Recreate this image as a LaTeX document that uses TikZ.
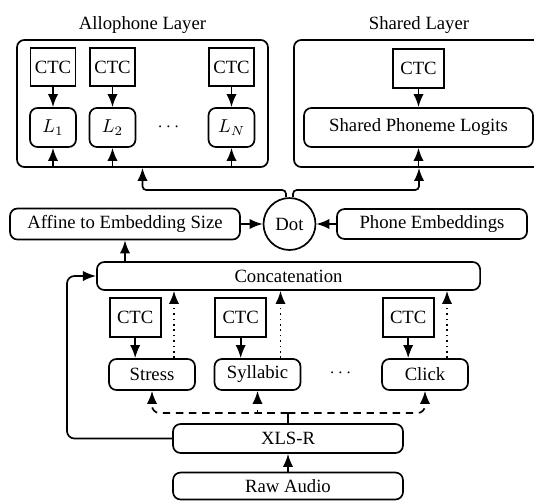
\documentclass[tikz,border=0pt]{standalone}
\usepackage{fontspec}
\setmainfont{Liberation Serif}
\newfontfamily\timesfont{Liberation Serif}
\usepackage{amsmath}
\usetikzlibrary{arrows.meta, calc, positioning}
\tikzset {
    every node/.style = {
        font=\timesfont
    },
    ctc/.style = {
        draw,
        shape = rectangle,
        inner sep=1pt,
        minimum width=27.3pt,
        minimum height=20.9pt
    },
    ctc narrow/.style = {
        ctc,
        minimum width=24.1pt,
        minimum height=20.3pt
    },
    logit/.style = {
        draw,
        rounded corners=4pt,
        inner sep=1pt,
        minimum width=24.6pt,
        minimum height=20.9pt
    },
    layerbox/.style args = {#1}{
        draw,
        rounded corners=4pt,
        minimum height=68pt,
        label = {[label distance=-0.6pt]above:#1}
    },
    block/.style = {
        draw,
        rounded corners=4pt,
        inner sep=1pt
    },
    feature/.style = {
        block,
        minimum width=46pt,
        minimum height=16.6pt
    },
    dotprod/.style = {
        draw,
        shape = circle,
        inner sep=0pt,
        minimum size=27.8pt
    },
    conn/.style = {
        -{Latex[length=7pt, width=5.5pt]},
        draw
    }
}
\begin{document}
\begin{tikzpicture}[x=0.535pt, y=-0.535pt, line width=0.9pt, node distance=10.7pt]
        \useasboundingbox (0, 0) rectangle (534, 500);

        % Top : the two output layers with their heads
        \node [layerbox={Allophone Layer}, minimum width=134.3pt] at (142.5, 103.5) (allo)   {};
        \node [layerbox={Shared Layer}, minimum width=133.8pt]    at (419, 103.5)   (shared) {};
        \node [logit] at (53, 127.5)                            (l1)        {$L_1$};
        \node [logit] at (112.5, 127.5)                         (l2)        {$L_2$};
        \node at (170, 127.5)                                   (ldots)     {$\cdots$};
        \node [logit] at (231.5, 127.5)                         (lN)        {$L_N$};
        \node [logit, minimum width=122.5pt] at (418.5, 127.5)  (logits)    {Shared Phoneme Logits};
        \node [ctc narrow, above=of l1]                         (ctc1)      {CTC};
        \node [ctc narrow, above=of l2]                         (ctc2)      {CTC};
        \node [ctc narrow, above=of lN]                         (ctcN)      {CTC};
        \node [ctc, above=9.6pt of logits]                      (ctcshared) {CTC};

        % Middle row : affine, dot product, phone embeddings
        \coordinate (fork) at (289.5, 190);
        \node [dotprod] at (289.5, 224)                                         (dotp)   {Dot};
        \node [block, minimum width=123pt, minimum height=16.6pt] at (125, 224) (affine) {Affine to Embedding Size};
        \node [block, minimum width=101.7pt, minimum height=16pt] at (432, 224) (phone)  {Phone Embeddings};
        \node [block, minimum width=205pt, minimum height=15pt] at (288.5, 276) (concat) {Concatenation};

        % Feature heads
        \node [feature] at (152, 374.5)                         (stress)    {Stress};
        \node [feature] at (257.5, 374.5)                       (syll)      {Syllabic};
        \node at (342, 373)                                     (fdots)     {$\cdots$};
        \node [feature] at (425, 374.5)                         (click)     {Click};
        \node [ctc, above=of stress, xshift=-9pt]               (ctcS)      {CTC};
        \node [ctc, above=of syll, xshift=-9pt]                 (ctcY)      {CTC};
        \node [ctc, above=of click, xshift=-9pt]                (ctcC)      {CTC};

        % Bottom : encoder and input
        \coordinate (split) at (288, 413);
        \coordinate (rail)  at (67, 276);
        \node [block, minimum width=123pt, minimum height=15.5pt] at (288, 438.5) (xlsr) {XLS-R};
        \node [block, minimum width=123pt, minimum height=14.4pt] at (288, 486)   (raw)  {Raw Audio};

        \draw [conn]    (ctc1)      --  (l1);
        \draw [conn]    (ctc2)      --  (l2);
        \draw [conn]    (ctcN)      --  (lN);
        \draw [conn]    (ctcshared) --  (logits);
        \draw [conn]    (allo.south -| l1)      --  (l1);
        \draw [conn]    (allo.south -| l2)      --  (l2);
        \draw [conn]    (allo.south -| lN)      --  (lN);
        \draw [conn]    (shared.south -| logits) -- (logits);

        \draw [conn, rounded corners=2pt] ([xshift=-1.9pt]dotp.north) |- (fork -| allo.south) -- (allo.south);
        \draw [conn, rounded corners=2pt] ([xshift=1.9pt]dotp.north) |- (fork -| shared.south) -- (shared.south);
        \draw [conn]    (affine)    --  (dotp);
        \draw [conn]    (phone)     --  (dotp);
        \draw [conn]    (concat.north -| affine) -- (affine);

        \draw [conn]    (ctcS)      --  (ctcS |- stress.north);
        \draw [conn]    (ctcY)      --  (ctcY |- syll.north);
        \draw [conn]    (ctcC)      --  (ctcC |- click.north);
        \draw [conn, dotted] ($(stress.north)+(22,0)$) coordinate (sout) -- (sout |- concat.south);
        \draw [conn, dotted] ($(syll.north)+(23,0)$)   coordinate (yout) -- (yout |- concat.south);
        \draw [conn, dotted] ($(click.north)+(22,0)$)  coordinate (cout) -- (cout |- concat.south);

        \draw           (xlsr.north) -- (split);
        \draw [conn, dash pattern=on 4pt off 3pt, rounded corners=4pt] (split) -| (stress.south);
        \draw [conn, dash pattern=on 4pt off 3pt]                      (split) -| (syll.south);
        \draw [conn, dash pattern=on 4pt off 3pt, rounded corners=4pt] (split) -| (click.south);
        \draw [conn, rounded corners=4pt] (xlsr.west) -| (rail) -- (concat.west);
        \draw [conn]    (raw)       --  (xlsr);
    \end{tikzpicture}
\end{document}
